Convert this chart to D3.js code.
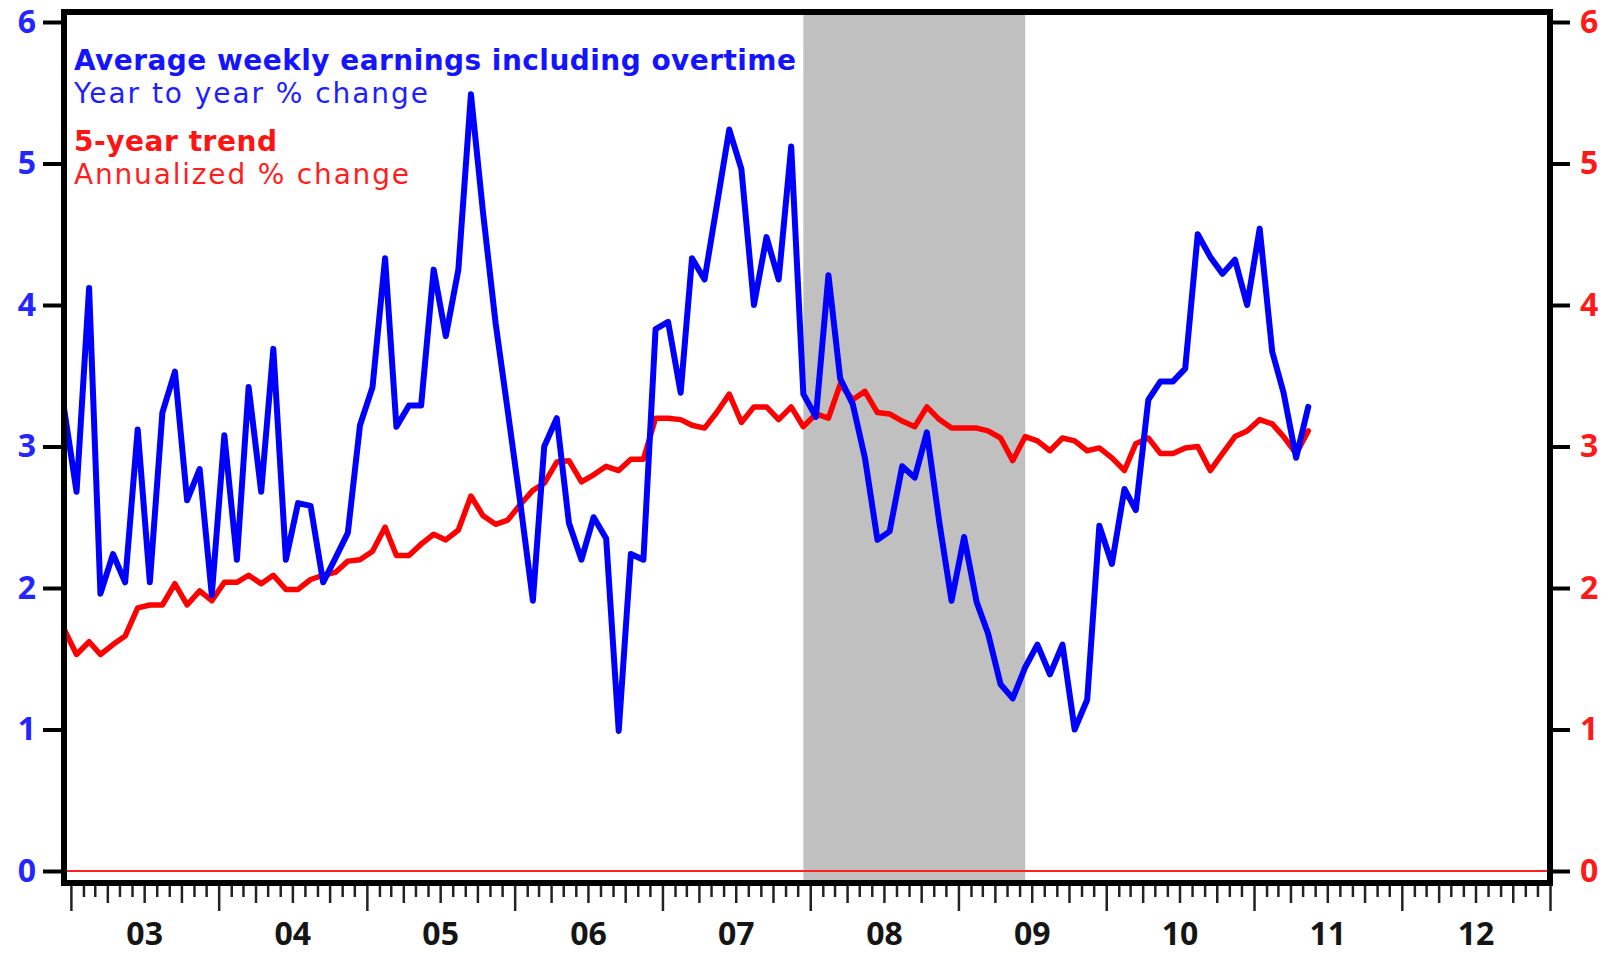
<!DOCTYPE html>
<html>
<head>
<meta charset="utf-8">
<style>
body {
    margin: 0;
    background: #ffffff;
}
#chart {
    display: block;
}
.legend {
    font-family: "DejaVu Sans", Verdana, sans-serif;
    font-size: 28px;
}
.num {
    font-family: "Open Sans", sans-serif;
    font-weight: 700;
}
</style>
</head>
<body>
<svg id="chart" width="1614" height="953"></svg>

<script src="https://d3js.org/d3.v7.min.js"></script>
<script>
    // monthly values, Dec 2002 .. May 2011
    const first_month = new Date(2002, 11, 15);

    const earnings = [
        3.27,
        2.68, 4.12, 1.96, 2.24, 2.04, 3.12, 2.04, 3.24, 3.53, 2.62, 2.84, 1.95,
        3.08, 2.20, 3.42, 2.68, 3.69, 2.20, 2.60, 2.58, 2.04, 2.21, 2.39, 3.15,
        3.42, 4.33, 3.14, 3.29, 3.29, 4.25, 3.78, 4.25, 5.49, 4.65, 3.87, 3.25,
        2.60, 1.91, 3.00, 3.20, 2.46, 2.20, 2.50, 2.35, 0.99, 2.24, 2.20, 3.83,
        3.88, 3.38, 4.33, 4.18, 4.70, 5.24, 4.96, 4.00, 4.48, 4.18, 5.12, 3.37,
        3.21, 4.21, 3.48, 3.30, 2.92, 2.34, 2.40, 2.86, 2.78, 3.10, 2.46, 1.91,
        2.36, 1.90, 1.68, 1.32, 1.22, 1.44, 1.60, 1.39, 1.60, 1.00, 1.21, 2.44,
        2.17, 2.70, 2.55, 3.33, 3.46, 3.46, 3.55, 4.50, 4.34, 4.22, 4.32, 4.00,
        4.54, 3.67, 3.38, 2.92, 3.28
    ];

    const trend = [
        1.71,
        1.53, 1.62, 1.53, 1.60, 1.66, 1.86, 1.88, 1.88, 2.03, 1.88, 1.98, 1.91,
        2.04, 2.04, 2.09, 2.03, 2.09, 1.99, 1.99, 2.06, 2.09, 2.11, 2.19, 2.20,
        2.26, 2.43, 2.23, 2.23, 2.31, 2.38, 2.34, 2.41, 2.65, 2.51, 2.45, 2.48,
        2.59, 2.69, 2.74, 2.89, 2.90, 2.75, 2.80, 2.86, 2.83, 2.91, 2.91, 3.20,
        3.20, 3.19, 3.15, 3.13, 3.24, 3.37, 3.17, 3.28, 3.28, 3.19, 3.28, 3.14,
        3.23, 3.20, 3.44, 3.33, 3.39, 3.24, 3.23, 3.18, 3.14, 3.28, 3.19, 3.13,
        3.13, 3.13, 3.11, 3.06, 2.90, 3.07, 3.04, 2.97, 3.06, 3.04, 2.97, 2.99,
        2.92, 2.83, 3.02, 3.06, 2.95, 2.95, 2.99, 3.00, 2.83, 2.95, 3.07, 3.11,
        3.19, 3.16, 3.07, 2.95, 3.11
    ];

    const recession = [new Date(2007, 11, 15), new Date(2009, 5, 15)];
    const year_labels = ["03", "04", "05", "06", "07", "08", "09", "10", "11", "12"];
    const y_ticks = [0, 1, 2, 3, 4, 5, 6];
    const legend_lines = [
        {text: "Average weekly earnings including overtime", color: "#1414ff", bold: true, width: 722},
        {text: "Year to year % change", color: "#1e1eff", bold: false, width: 354},
        {text: "5-year trend", color: "#ff1414", bold: true, width: 203},
        {text: "Annualized % change", color: "#ff1e1e", bold: false, width: 335}
    ];

    const plot_left = 64, plot_right = 1550, plot_top = 12, plot_bottom = 883;
    const svg = d3.select("#chart");

    const x = d3.scaleTime()
        .domain([new Date(2002, 11, 15), new Date(2013, 0, 1)])
        .range([plot_left, plot_right]);
    const y = d3.scaleLinear()
        .domain([0, 6])
        .range([871, 22]);

    const month_of = i => d3.timeMonth.offset(first_month, i);

    // recession band
    svg.append("rect")
        .attr("x", x(recession[0]))
        .attr("y", plot_top)
        .attr("width", x(recession[1]) - x(recession[0]))
        .attr("height", plot_bottom - plot_top)
        .style("fill", "#c0c0c0");

    // zero line
    svg.append("line")
        .attr("x1", plot_left).attr("x2", plot_right)
        .attr("y1", y(0)).attr("y2", y(0))
        .style("stroke", "#ff2020")
        .style("stroke-width", 2);

    const line = d3.line()
        .x((d, i) => x(month_of(i)))
        .y(d => y(d));

    svg.append("path")
        .datum(trend)
        .attr("d", line)
        .style("fill", "none")
        .style("stroke", "#ff0000")
        .style("stroke-width", 5.5)
        .style("stroke-linejoin", "round")
        .style("stroke-linecap", "round");

    svg.append("path")
        .datum(earnings)
        .attr("d", line)
        .style("fill", "none")
        .style("stroke", "#0000ff")
        .style("stroke-width", 6)
        .style("stroke-linejoin", "round")
        .style("stroke-linecap", "round");

    // frame
    svg.append("rect")
        .attr("x", plot_left).attr("y", plot_top)
        .attr("width", plot_right - plot_left).attr("height", plot_bottom - plot_top)
        .style("fill", "none")
        .style("stroke", "#000")
        .style("stroke-width", 6);

    // left axis (blue)
    const y_left = svg.append("g")
        .attr("transform", "translate(" + (plot_left - 3) + ",0)")
        .call(d3.axisLeft(y).tickValues(y_ticks).tickSize(18).tickPadding(7).tickFormat(d3.format("d")));
    y_left.select(".domain").remove();
    y_left.selectAll("line").style("stroke", "#000").style("stroke-width", 4);
    y_left.selectAll("text")
        .attr("class", "num")
        .style("font-size", "32px")
        .style("fill", "#2525ff");

    // right axis (red)
    const y_right = svg.append("g")
        .attr("transform", "translate(" + (plot_right + 3) + ",0)")
        .call(d3.axisRight(y).tickValues(y_ticks).tickSize(17).tickPadding(10).tickFormat(d3.format("d")));
    y_right.select(".domain").remove();
    y_right.selectAll("line").style("stroke", "#000").style("stroke-width", 4);
    y_right.selectAll("text")
        .attr("class", "num")
        .style("font-size", "32px")
        .style("fill", "#ff1a1a");

    // month ticks
    const x_ticks = svg.append("g")
        .attr("transform", "translate(0," + (plot_bottom + 3) + ")")
        .call(d3.axisBottom(x).ticks(d3.timeMonth.every(1)).tickFormat(""));
    x_ticks.select(".domain").remove();
    x_ticks.selectAll(".tick line")
        .attr("y2", d => d.getMonth() === 0 ? 25 : (d.getMonth() % 3 === 0 ? 17 : 11))
        .style("stroke", "#222")
        .style("stroke-width", 2.5);

    // year labels
    const x_labels = svg.append("g")
        .attr("transform", "translate(0," + (plot_bottom + 3) + ")")
        .call(d3.axisBottom(x)
            .tickValues(year_labels.map((d, i) => new Date(2003 + i, 6, 1)))
            .tickSize(0).tickPadding(36)
            .tickFormat((d, i) => year_labels[i]));
    x_labels.select(".domain").remove();
    x_labels.selectAll("text")
        .attr("class", "num")
        .style("font-size", "32px")
        .style("fill", "#151515");

    // legend
    const baselines = [70, 103, 151, 184];
    svg.selectAll("text.legend")
        .data(legend_lines)
        .enter()
        .append("text")
        .attr("class", "legend")
        .attr("x", 74)
        .attr("y", (d, i) => baselines[i])
        .attr("textLength", d => d.width)
        .attr("lengthAdjust", "spacing")
        .style("font-weight", d => d.bold ? "bold" : "normal")
        .style("fill", d => d.color)
        .text(d => d.text);
</script>
</body>
</html>
